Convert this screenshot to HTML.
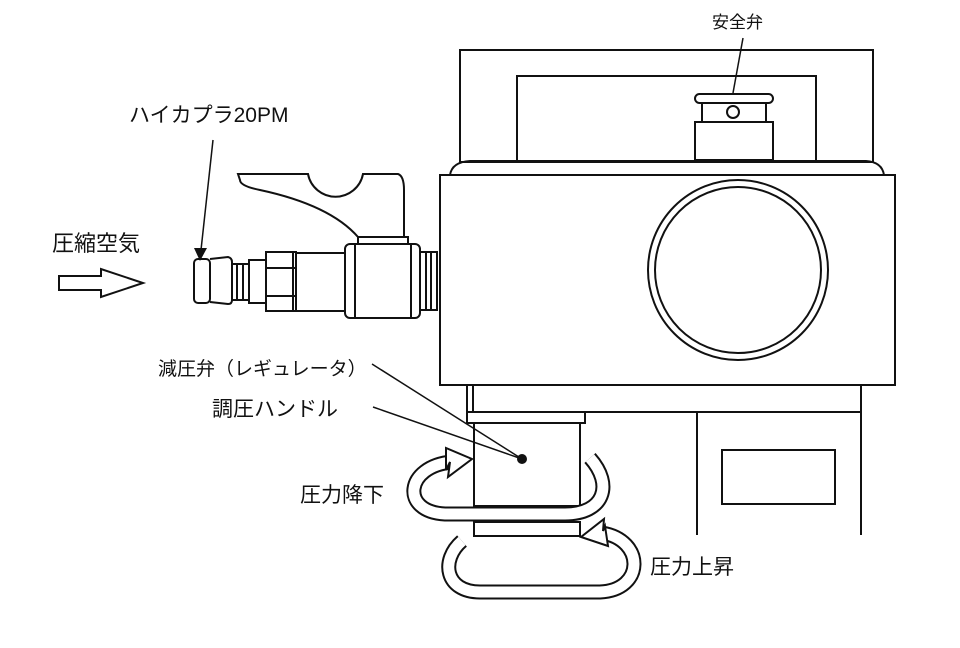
<!DOCTYPE html>
<html><head><meta charset="utf-8"><style>
html,body{margin:0;padding:0;background:#fff;}
svg{display:block}
text{font-family:"Liberation Sans","Noto Sans CJK JP",sans-serif;fill:#111;}
</style></head><body>
<svg width="960" height="648" viewBox="0 0 960 648" xmlns="http://www.w3.org/2000/svg">
<g fill="none" stroke="#111" stroke-width="2">
<rect x="460" y="50" width="413" height="112"/>
<rect x="517" y="76" width="299" height="86"/>
<rect x="695" y="122" width="78" height="38" fill="#fff"/>
<rect x="702" y="102" width="64" height="20"/>
<rect x="695" y="94" width="78" height="9" rx="4.5" fill="#fff"/>
<circle cx="733" cy="112" r="6"/>
<path d="M450,175 Q452,162 470,161 L866,161 Q882,162 884,175"/>
<rect x="440" y="175" width="455" height="210"/>
<circle cx="738" cy="270" r="90"/>
<circle cx="738" cy="270" r="83"/>
<line x1="467" y1="385" x2="467" y2="423"/>
<line x1="473" y1="385" x2="473" y2="412"/>
<line x1="473" y1="412" x2="862" y2="412"/>
<line x1="861" y1="385" x2="861" y2="535"/>
<line x1="697" y1="412" x2="697" y2="535"/>
<rect x="722" y="450" width="113" height="54"/>
<rect x="467" y="412" width="118" height="11"/>
<rect x="474" y="423" width="106" height="83" fill="#fff"/>
<rect x="474" y="522" width="106" height="14"/>
<path d="M238,174 L308,174 A28,28 0 0 0 363,174 L398,174 Q404,176 404,190 L404,237 L358,237 Q330,205 260,190 Q240,186 240,180 Z" fill="#fff"/>
<rect x="358" y="237" width="50" height="8"/>
<rect x="420" y="252" width="17" height="58"/>
<line x1="426" y1="252" x2="426" y2="310"/><line x1="431" y1="252" x2="431" y2="310"/>
<rect x="345" y="244" width="75" height="74" rx="5" fill="#fff"/>
<line x1="355" y1="244" x2="355" y2="318"/><line x1="411" y1="244" x2="411" y2="318"/>
<rect x="296" y="253" width="49" height="58"/>
<rect x="266" y="252" width="30" height="59"/>
<line x1="266" y1="268" x2="296" y2="268"/><line x1="266" y1="296" x2="296" y2="296"/>
<line x1="293" y1="252" x2="293" y2="311"/>
<rect x="249" y="260" width="17" height="43"/>
<rect x="232" y="264" width="17" height="36"/>
<line x1="237" y1="264" x2="237" y2="300"/><line x1="243" y1="264" x2="243" y2="300"/>
<path d="M210,259 L228,257 Q232,258 232,262 L232,300 Q232,304 228,304 L210,302"/>
<rect x="194" y="259" width="16" height="44" rx="4"/>
<path d="M59,276 L101,276 L101,269 L143,283 L101,297 L101,290 L59,290 Z"/>
<line x1="213" y1="140" x2="201" y2="250" stroke-width="1.5"/>
<line x1="743" y1="38" x2="733" y2="93" stroke-width="1.5"/>
<line x1="372" y1="364" x2="522" y2="459" stroke-width="1.5"/>
<line x1="373" y1="407" x2="522" y2="459" stroke-width="1.5"/>
</g>
<path d="M194,248 L207,248 L200,261 Z" fill="#111"/>
<circle cx="522" cy="459" r="5" fill="#111"/>
<g fill="none" stroke-linecap="butt">
<path d="M590,458 C614,485 604,514 565,514 L445,514 C400,512 405,466 452,462" stroke="#111" stroke-width="15"/>
<path d="M590,458 C614,485 604,514 565,514 L445,514 C400,512 405,466 452,462" stroke="#fff" stroke-width="11"/>
<path d="M462,541 C440,560 445,592 480,592 L600,592 C645,590 645,540 602,533" stroke="#111" stroke-width="15"/>
<path d="M462,541 C440,560 445,592 480,592 L600,592 C645,590 645,540 602,533" stroke="#fff" stroke-width="11"/>
</g>
<path d="M446,470 L446,448 L472,459 L448,477 L450,462 Z" fill="#fff" stroke="#111" stroke-width="2"/>
<path d="M605,526 L608,546 L581,537 L604,519 L603,531 Z" fill="#fff" stroke="#111" stroke-width="2"/>
<text x="712" y="28" font-size="17">安全弁</text>
<text x="129" y="122" font-size="21">ハイカプラ20PM</text>
<text x="52" y="251" font-size="22">圧縮空気</text>
<text x="158" y="375" font-size="19">減圧弁（レギュレータ）</text>
<text x="212" y="416" font-size="21">調圧ハンドル</text>
<text x="300" y="502" font-size="21">圧力降下</text>
<text x="650" y="574" font-size="21">圧力上昇</text>
</svg>
</body></html>
